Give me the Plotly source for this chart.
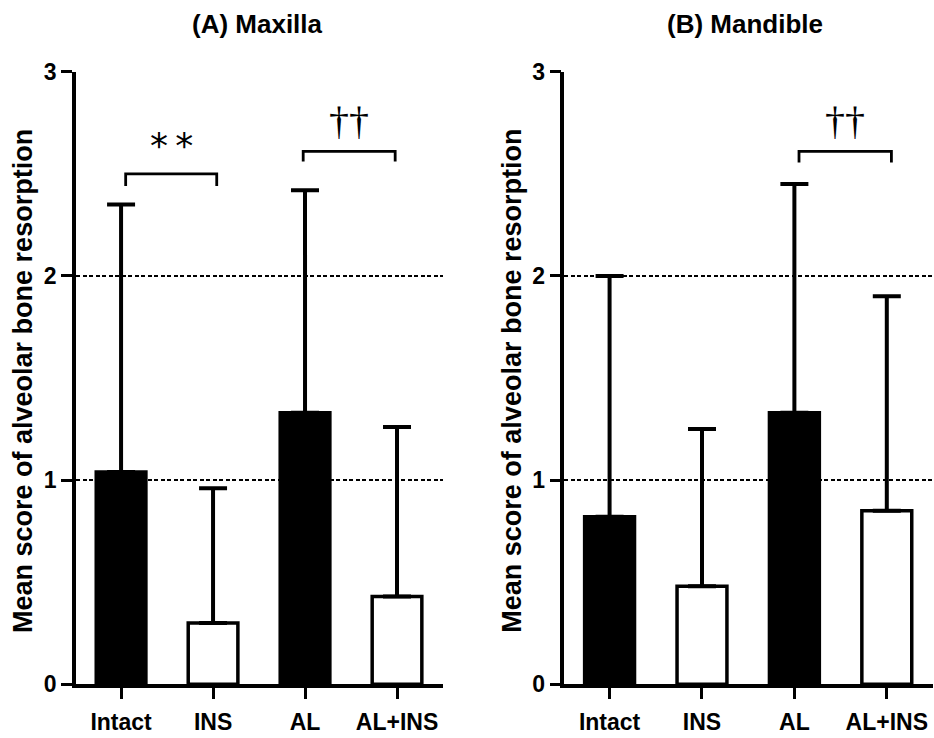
import plotly.graph_objects as go

# ---- data ----
groups = ["Intact", "INS", "AL", "AL+INS"]
maxilla_mean = [1.04, 0.30, 1.33, 0.43]
maxilla_sd = [1.31, 0.66, 1.09, 0.83]
mandible_mean = [0.82, 0.48, 1.33, 0.85]
mandible_sd = [1.18, 0.77, 1.12, 1.05]
bar_fill = ["black", "white", "black", "white"]
y_ticks = [0, 1, 2, 3]
panel_titles = ["(A) Maxilla", "(B) Mandible"]
y_title = "Mean score of alveolar bone resorption"
# significance brackets: (panel, x_start, x_end, y_top, leg_bottom, label)
brackets = [
    (1, 0.05, 1.04, 2.50, 2.44, "**"),
    (1, 1.98, 2.98, 2.61, 2.56, "††"),
    (2, 2.05, 3.05, 2.61, 2.555, "††"),
]

W, H = 934, 738
def px(x):
    return x / W
def py(y):
    return 1 - y / H

fig = go.Figure()

panels = [
    (1, maxilla_mean, maxilla_sd, [px(76), px(443)]),
    (2, mandible_mean, mandible_sd, [px(564.3), px(933)]),
]
ydom = [py(684.3), py(71.7)]

for idx, mean, sd, xdom in panels:
    xa = "x" if idx == 1 else "x2"
    ya = "y" if idx == 1 else "y2"
    fig.add_trace(go.Bar(
        x=list(range(len(groups))), y=mean,
        width=0.54,
        marker=dict(color=bar_fill, line=dict(color="black", width=3.5)),
        error_y=dict(type="data", symmetric=False, array=sd,
                     arrayminus=[0] * len(sd),
                     color="black", thickness=4, width=14),
        xaxis=xa, yaxis=ya, showlegend=False, hoverinfo="skip",
    ))
    axis_common = dict(
        showline=True, linecolor="black", linewidth=3.5,
        ticks="outside", ticklen=11, tickwidth=3, tickcolor="black",
        automargin=False,
    )
    xkey = "xaxis" if idx == 1 else "xaxis2"
    ykey = "yaxis" if idx == 1 else "yaxis2"
    fig.layout[xkey] = dict(
        domain=xdom, range=[-0.49, 3.5],
        tickmode="array", tickvals=list(range(len(groups))), ticktext=groups,
        tickfont=dict(family="Liberation Sans, Arial", size=23, color="black", weight="bold"),
        ticklabelstandoff=3,
        showgrid=False, zeroline=False,
        anchor=ya,
        **axis_common,
    )
    fig.layout[ykey] = dict(
        domain=ydom, range=[0, 3],
        tickmode="array", tickvals=y_ticks, ticktext=[str(t) for t in y_ticks],
        tickfont=dict(family="Liberation Sans, Arial", size=23, color="black", weight="bold"),
        showgrid=True, gridcolor="black", gridwidth=1.5, griddash="4px,2.5px",
        zeroline=False,
        anchor=xa,
        **axis_common,
    )

# brackets and significance marks
for panel, x0, x1, ytop, ybot, label in brackets:
    xa = "x" if panel == 1 else "x2"
    ya = "y" if panel == 1 else "y2"
    fig.add_trace(go.Scatter(
        x=[x0, x0, x1, x1], y=[ybot, ytop, ytop, ybot],
        mode="lines", line=dict(color="black", width=2.8),
        xaxis=xa, yaxis=ya, showlegend=False, hoverinfo="skip",
    ))
    if label == "**":
        font = dict(family="DejaVu Sans", size=36, color="black")
        shift = 6
        text = "*\u2009*"
    else:
        font = dict(family="Liberation Serif, Times New Roman", size=40, color="black")
        shift = 6
        text = label
    fig.add_annotation(
        x=(x0 + x1) / 2, y=ytop, xref=xa, yref=ya,
        text=text, showarrow=False, yanchor="bottom", yshift=shift,
        font=font,
    )

# panel titles
for t, xc in zip(panel_titles, [257.5, 745]):
    fig.add_annotation(
        x=px(xc), y=py(24), xref="paper", yref="paper",
        text=t, showarrow=False, xanchor="center", yanchor="middle",
        font=dict(family="Liberation Sans, Arial", size=26, color="black", weight="bold"),
    )

# y axis titles
for xc in [23, 511.7]:
    fig.add_annotation(
        x=px(xc), y=py(381), xref="paper", yref="paper",
        text=y_title, textangle=-90, showarrow=False,
        xanchor="center", yanchor="middle",
        font=dict(family="Liberation Sans, Arial", size=27, color="black", weight="bold"),
    )

fig.update_layout(
    width=W, height=H,
    margin=dict(l=0, r=0, t=0, b=0),
    paper_bgcolor="white", plot_bgcolor="white",
    bargap=0.4,
)

fig.write_html(
    "out.html",
    config={"displayModeBar": False},
    post_script="document.body.style.margin='0';document.body.style.overflow='hidden';",
)
